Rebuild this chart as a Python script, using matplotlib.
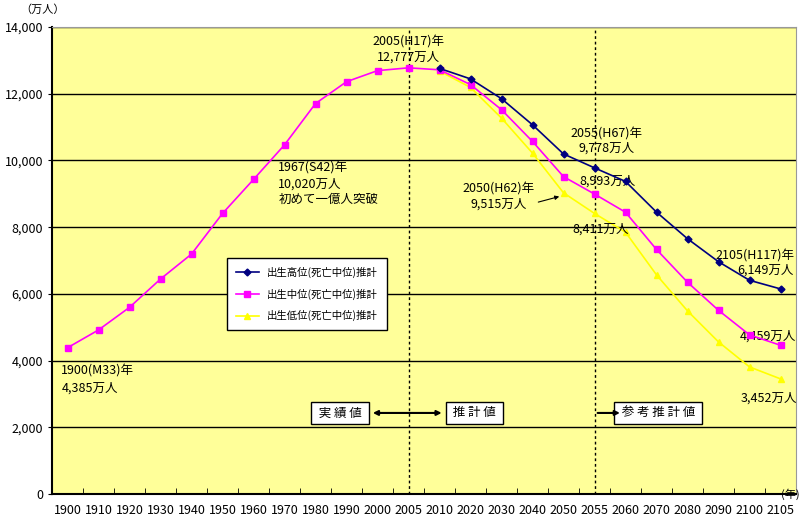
import numpy as np
import matplotlib
matplotlib.use("Agg")
import matplotlib.pyplot as plt

plt.rcParams['font.family'] = ['Noto Sans CJK JP', 'DejaVu Sans']

# categories (x axis)
years = ['1900', '1910', '1920', '1930', '1940', '1950', '1960', '1970', '1980', '1990',
         '2000', '2005', '2010', '2020', '2030', '2040', '2050', '2055', '2060', '2070',
         '2080', '2090', '2100', '2105']

# population (10k persons)
medium = [4385, 4918, 5596, 6445, 7193, 8411, 9430, 10467, 11706, 12361,
          12693, 12777, 12718, 12274, 11522, 10570, 9515, 8993, 8448, 7331,
          6349, 5507, 4771, 4459]
high = [None] * 12 + [12760, 12445, 11852, 11069, 10195, 9778, 9371, 8451,
                      7653, 6964, 6407, 6149]
low = [None] * 12 + [12680, 12190, 11270, 10220, 9030, 8411, 7850, 6570,
                     5490, 4560, 3810, 3452]

legend_labels = ['出生高位(死亡中位)推計', '出生中位(死亡中位)推計', '出生低位(死亡中位)推計']

x = np.arange(len(years))

fig = plt.figure(figsize=(8, 5.2), dpi=100)
ax = fig.add_axes([0.065, 0.05, 0.93, 0.898])
ax.set_facecolor('#FFFF99')

def series(vals):
    idx = [i for i, v in enumerate(vals) if v is not None]
    return x[idx], np.array([vals[i] for i in idx])

hx, hy = series(high)
mx, my = series(medium)
lx, ly = series(low)

l_low, = ax.plot(lx, ly, color='#FFFF00', marker='^', markersize=5, lw=1.2, zorder=3)
l_med, = ax.plot(mx, my, color='#FF00FF', marker='s', markersize=4.5, lw=1.2, zorder=4)
l_high, = ax.plot(hx, hy, color='#000080', marker='D', markersize=3.5, lw=1.2, zorder=5)

for yv in range(2000, 14001, 2000):
    ax.axhline(yv, color='black', lw=1, zorder=1)
for xv in (years.index('2005'), years.index('2055')):
    ax.axvline(xv, color='black', lw=1, ls=(0, (2, 2)), zorder=2)

ax.set_xlim(-0.5, len(years) - 0.5)
ax.set_ylim(0, 14000)
ax.set_yticks(range(0, 14001, 2000))
ax.set_yticklabels([f'{v:,}' for v in range(0, 14001, 2000)], fontsize=9)
ax.set_xticks(x)
ax.set_xticklabels(years, fontsize=9)
ax.set_xticks(np.arange(-0.5, len(years), 0.5), minor=True)
ax.tick_params(axis='x', which='major', length=0, pad=7)
ax.tick_params(axis='x', which='minor', direction='in', length=4)
ax.tick_params(axis='y', length=3)
for s in ('top', 'right'):
    ax.spines[s].set_color('#999999')
ax.spines['left'].set_linewidth(1.5)
ax.spines['bottom'].set_linewidth(1.5)

fs = 9
fig.text(0.025, 0.975, '（万人）', fontsize=8)
ax.text(23.0, 0, '(年)', fontsize=8, ha='left', va='center', clip_on=False)

ax.text(11, 13330, '2005(H17)年\n12,777万人', ha='center', va='center', fontsize=fs, linespacing=1.15)
ax.text(6.8, 9300, '1967(S42)年\n10,020万人\n初めて一億人突破', ha='left', va='center', fontsize=fs, linespacing=1.3)
ax.text(-0.2, 3430, '1900(M33)年\n4,385万人', ha='left', va='center', fontsize=fs, linespacing=1.35)
ax.text(17.4, 10580, '2055(H67)年\n9,778万人', ha='center', va='center', fontsize=fs, linespacing=1.2)
ax.text(16.5, 9370, '8,993万人', ha='left', va='center', fontsize=fs)
ax.text(13.9, 8930, '2050(H62)年\n9,515万人', ha='center', va='center', fontsize=fs, linespacing=1.2)
ax.annotate('', xy=(15.95, 8940), xytext=(15.1, 8730),
            arrowprops=dict(arrowstyle='-|>', color='black', lw=0.8, mutation_scale=6))
ax.text(16.3, 7950, '8,411万人', ha='left', va='center', fontsize=fs)
ax.text(20.9, 7140, '2105(H117)年', ha='left', va='center', fontsize=fs)
ax.text(21.6, 6700, '6,149万人', ha='left', va='center', fontsize=fs)
ax.text(21.7, 4740, '4,459万人', ha='left', va='center', fontsize=fs)
ax.text(21.7, 2880, '3,452万人', ha='left', va='center', fontsize=fs)

box = dict(boxstyle='square,pad=0.35', fc='white', ec='black', lw=1)
ax.text(8.79, 2430, ' 実 績 値 ', ha='center', va='center', fontsize=fs, bbox=box)
ax.text(13.13, 2430, ' 推 計 値 ', ha='center', va='center', fontsize=fs, bbox=box)
ax.text(19.05, 2430, ' 参 考 推 計 値 ', ha='center', va='center', fontsize=fs, bbox=box)
ax.annotate('', xy=(9.85, 2430), xytext=(12.07, 2430),
            arrowprops=dict(arrowstyle='<|-|>', color='black', lw=1.5, mutation_scale=7,
                            shrinkA=0, shrinkB=0))
ax.annotate('', xy=(17.82, 2430), xytext=(17.1, 2430),
            arrowprops=dict(arrowstyle='-|>', color='black', lw=1.5, mutation_scale=7,
                            shrinkA=0, shrinkB=0))

leg = ax.legend([l_high, l_med, l_low], legend_labels, loc='upper left',
                bbox_to_anchor=(0.235, 0.505), borderaxespad=0, fontsize=7.5,
                frameon=True, fancybox=False, edgecolor='black', framealpha=1,
                handlelength=2.2, labelspacing=1.0, borderpad=0.85)
leg.get_frame().set_linewidth(1)

fig.savefig('out.png', dpi=100)
